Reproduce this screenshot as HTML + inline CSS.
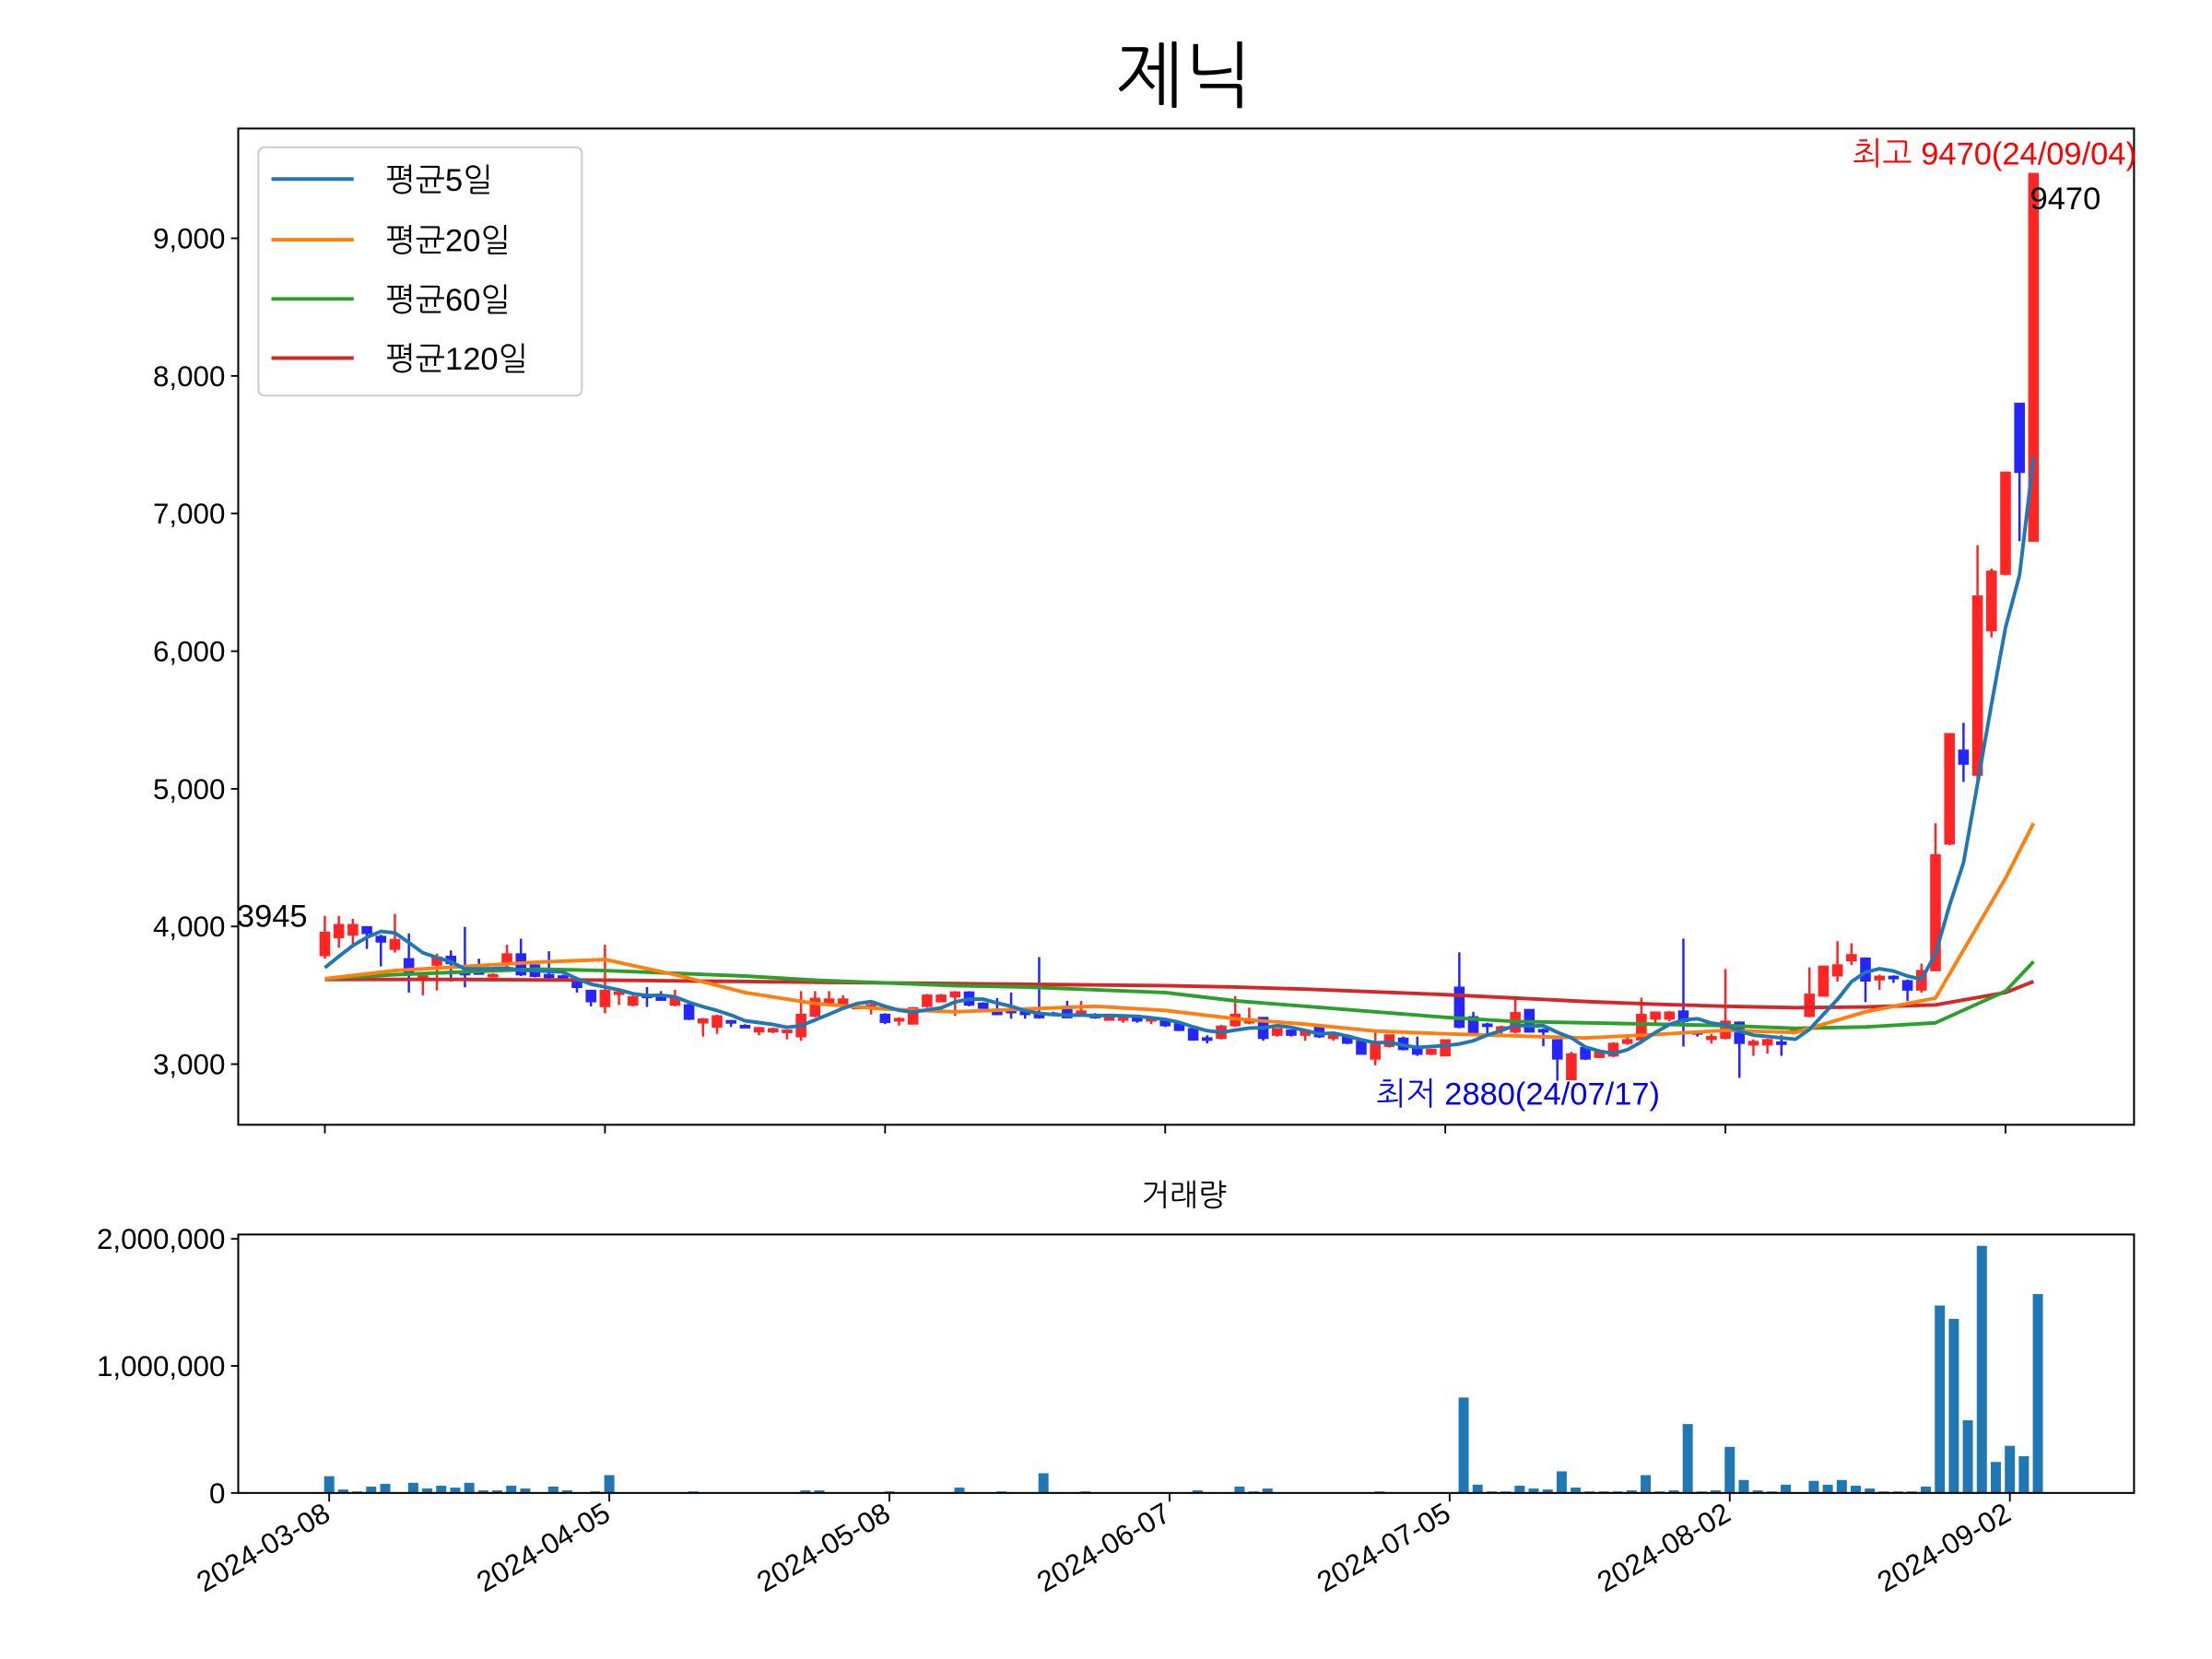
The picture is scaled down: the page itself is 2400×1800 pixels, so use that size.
<!DOCTYPE html>
<html><head><meta charset="utf-8">
<style>
html,body{margin:0;padding:0;background:#fff;}
svg{display:block;}
text{font-family:"Liberation Sans","NanumGothic","Noto Sans CJK KR",sans-serif;}
</style></head>
<body>
<svg id="chart" xmlns="http://www.w3.org/2000/svg" width="2400" height="1800" viewBox="0 0 1532 1149">
<rect x="0" y="0" width="1532" height="1149" fill="#fff"/>
<text x="820" y="70" font-size="50" text-anchor="middle" fill="#000">제닉</text>
<g id="price-plot"></g>
<g id="volume-plot"></g>
<rect x="165" y="89" width="1313" height="690" fill="none" stroke="#000" stroke-width="1.3"/>
<rect x="165" y="855" width="1313" height="179" fill="none" stroke="#000" stroke-width="1.3"/>
<text x="820" y="835" font-size="21" text-anchor="middle">거래량</text>
<g>
<rect x="179" y="102" width="224" height="172" rx="4" fill="#fff" fill-opacity="0.85" stroke="#ccc" stroke-width="1.3"/>
<line x1="188" y1="124" x2="245" y2="124" stroke="#1f77b4" stroke-width="2.5"/>
<text x="267" y="132" font-size="22">평균5일</text>
<line x1="188" y1="166" x2="245" y2="166" stroke="#ff7f0e" stroke-width="2.5"/>
<text x="267" y="174" font-size="22">평균20일</text>
<line x1="188" y1="207" x2="245" y2="207" stroke="#2ca02c" stroke-width="2.5"/>
<text x="267" y="215" font-size="22">평균60일</text>
<line x1="188" y1="248" x2="245" y2="248" stroke="#d62728" stroke-width="2.5"/>
<text x="267" y="256" font-size="22">평균120일</text>
</g>
<text x="1283" y="114" font-size="22" fill="#ff0000">최고 9470(24/09/04)</text>
<text x="1406" y="145" font-size="22" fill="#000">9470</text>
<text x="164" y="642" font-size="22" fill="#000">3945</text>
<text x="953" y="765" font-size="22" fill="#0000ff">최저 2880(24/07/17)</text>
</svg>
<script>
const opens=[3789,3920,3939,3997,3927,3835,3765,3630,3720,3782,3673,3670,3640,3742,3800,3719,3650,3640,3604,3535,3419,3510,3430,3500,3500,3430,3430,3300,3270,3315,3280,3235,3235,3235,3200,3350,3430,3430,3410,3410,3361,3320,3292,3420,3454,3490,3523,3442,3385,3390,3407,3373,3370,3396,3370,3361,3320,3320,3330,3320,3315,3292,3257,3190,3188,3280,3300,3338,3211,3246,3211,3269,3188,3200,3165,3038,3130,3188,3130,3073,3061,3558,3343,3290,3250,3234,3396,3250,3176,2888,3119,3050,3060,3152,3177,3328,3328,3385,3235,3180,3189,3304,3140,3140,3160,3238,3348,3495,3642,3752,3769,3613,3637,3605,3539,3680,4600,5280,5100,6150,6560,7800,6800];
const highs=[4077,4077,4055,4000,3940,4092,3950,3660,3803,3826,3997,3766,3660,3867,3911,3725,3820,3650,3610,3540,3867,3530,3500,3560,3530,3540,3440,3335,3360,3320,3290,3270,3265,3250,3530,3530,3530,3500,3430,3440,3370,3340,3415,3510,3510,3530,3530,3450,3480,3520,3410,3777,3380,3460,3460,3370,3360,3350,3340,3340,3320,3300,3260,3210,3285,3495,3410,3340,3260,3250,3250,3275,3215,3205,3170,3230,3215,3200,3200,3110,3180,3812,3380,3300,3280,3477,3400,3260,3180,3090,3125,3095,3160,3200,3483,3380,3385,3912,3240,3220,3691,3310,3180,3185,3210,3270,3703,3715,3893,3878,3775,3650,3645,3615,3730,4750,5400,5480,6770,6600,7300,7800,9470];
const lows=[3766,3845,3870,3837,3710,3810,3520,3500,3535,3600,3558,3650,3630,3700,3640,3630,3620,3615,3520,3420,3370,3430,3420,3415,3460,3420,3320,3200,3220,3270,3260,3210,3225,3180,3170,3340,3420,3420,3400,3360,3290,3280,3290,3410,3450,3350,3420,3400,3355,3330,3330,3330,3350,3335,3360,3330,3315,3300,3300,3290,3270,3240,3170,3150,3180,3270,3290,3170,3200,3200,3170,3190,3170,3145,3070,2992,3120,3100,3060,3065,3060,3260,3215,3220,3200,3225,3230,3130,2880,2888,3030,3045,3050,3140,3170,3300,3310,3128,3200,3150,3180,2900,3060,3076,3060,3230,3340,3490,3600,3720,3450,3540,3590,3458,3520,3680,4590,5050,5050,6100,6550,6800,6800];
const closes=[3957,4013,4013,3950,3888,3904,3662,3640,3777,3731,3650,3660,3650,3800,3650,3638,3630,3625,3558,3454,3535,3523,3488,3490,3465,3477,3327,3327,3350,3300,3268,3264,3257,3246,3361,3477,3472,3472,3420,3430,3304,3330,3408,3500,3500,3523,3430,3407,3361,3380,3361,3338,3360,3338,3385,3338,3350,3343,3320,3330,3280,3246,3176,3180,3274,3361,3320,3188,3257,3211,3246,3200,3211,3153,3073,3142,3211,3107,3073,3107,3176,3269,3223,3280,3270,3373,3234,3240,3038,3073,3038,3084,3150,3177,3360,3377,3377,3311,3225,3200,3311,3152,3164,3177,3150,3262,3507,3711,3720,3794,3605,3637,3625,3539,3679,4520,5400,5180,6400,6580,7300,7300,9470];
const priorCloses=[3600,3620,3650,3673];
const volumes=[132000,27000,12000,50000,72000,5000,80000,35000,57000,42000,80000,20000,20000,57000,35000,5000,50000,20000,5000,12000,140000,0,0,0,5000,5000,12000,5000,0,0,0,0,0,0,20000,20000,0,0,0,0,12000,5000,5000,5000,0,42000,0,0,12000,5000,5000,155000,5000,5000,12000,0,5000,5000,5000,5000,5000,0,20000,5000,0,50000,12000,35000,5000,0,5000,0,0,0,5000,12000,0,0,5000,0,5000,751000,65000,12000,12000,57000,35000,27000,170000,42000,12000,12000,12000,20000,140000,12000,20000,542000,12000,20000,363000,102000,20000,12000,65000,5000,95000,65000,102000,57000,35000,12000,12000,12000,50000,1475000,1370000,572000,1945000,244000,371000,289000,1565000];
const maIdx=[0,5,10,15,20,25,30,35,40,45,50,55,60,65,70,75,80,85,90,95,100,105,110,115,120,122];
const ma20=[3620,3680,3710,3740,3760,3650,3520,3440,3400,3380,3400,3420,3390,3330,3290,3240,3220,3205,3190,3215,3245,3230,3380,3480,4350,4750];
const ma60=[3620,3650,3670,3690,3680,3660,3640,3610,3590,3570,3560,3540,3520,3460,3420,3380,3340,3310,3300,3290,3280,3260,3270,3300,3530,3745];
const ma120=[3615,3615,3615,3612,3610,3605,3600,3595,3590,3585,3580,3575,3570,3560,3545,3525,3505,3480,3455,3435,3420,3410,3415,3430,3520,3600];
const tickIdx=[0,20,40,60,80,100,120];
const tickLabels=["2024-03-08","2024-04-05","2024-05-08","2024-06-07","2024-07-05","2024-08-02","2024-09-02"];
const priceTicks=[3000,4000,5000,6000,7000,8000,9000];
const volTicks=[0,1000000,2000000];
const volTickLabels=["0","1,000,000","2,000,000"];

const NS="http://www.w3.org/2000/svg";
const svg=document.getElementById('chart');
const pp=document.getElementById('price-plot');
const vp=document.getElementById('volume-plot');
function xS(i){return 225+i*9.7;}
function xV(i){return 228+i*9.7;}
function yP(v){return 737-(v-3000)*0.09533;}
function yV(v){return 1034-v*0.000088;}
function mk(tag,attrs,parent){const e=document.createElementNS(NS,tag);for(const k in attrs)e.setAttribute(k,attrs[k]);(parent||svg).appendChild(e);return e;}

for(let i=0;i<closes.length;i++){
  const up=closes[i]>=opens[i];
  const col=up?'#ff0000':'#0000ff';
  const g=mk('g',{opacity:'0.85'},pp);
  
  
  const w=mk('line',{x1:xS(i),x2:xS(i),y1:yP(highs[i]),y2:yP(lows[i]),stroke:col,'stroke-width':1.6},g);
  
  
  const top=yP(Math.max(opens[i],closes[i])),bot=yP(Math.min(opens[i],closes[i]));
  const b=mk('rect',{x:xS(i)-3.2,y:top,width:6.4,height:Math.max(bot-top,1.5),fill:col,stroke:col,'stroke-width':1},g);
  
  
}
function poly(pts,color,name){
  const p=mk('polyline',{points:pts.map(q=>q[0].toFixed(2)+','+q[1].toFixed(2)).join(' '),fill:'none',stroke:color,'stroke-width':2.5,'stroke-linejoin':'round'},pp);
  
  
}
const all=priorCloses.concat(closes);
const ma5pts=[];
for(let i=0;i<closes.length;i++){let s=0;for(let k=0;k<5;k++)s+=all[i+4-k];ma5pts.push([xS(i),yP(s/5)]);}
poly(maIdx.map((ix,j)=>[xS(ix),yP(ma120[j])]),'#d62728','ma120-line');
poly(maIdx.map((ix,j)=>[xS(ix),yP(ma60[j])]),'#2ca02c','ma60-line');
poly(maIdx.map((ix,j)=>[xS(ix),yP(ma20[j])]),'#ff7f0e','ma20-line');
poly(ma5pts,'#1f77b4','ma5-line');

for(let i=0;i<volumes.length;i++){
  const h=1034-yV(volumes[i]);
  const r=mk('rect',{x:xV(i)-3.5,y:yV(volumes[i]),width:7,height:h,fill:'#1f77b4'},vp);
  
  
}
priceTicks.forEach(v=>{
  const t=mk('line',{x1:160,x2:165,y1:yP(v),y2:yP(v),stroke:'#000','stroke-width':1.2});
  
  
  const l=mk('text',{x:156,y:yP(v)+7,'font-size':20,'text-anchor':'end'});
  l.textContent=v.toLocaleString('en-US');
  
  
});
volTicks.forEach((v,j)=>{
  const t=mk('line',{x1:160,x2:165,y1:yV(v),y2:yV(v),stroke:'#000','stroke-width':1.2});
  
  
  const l=mk('text',{x:156,y:yV(v)+7,'font-size':20,'text-anchor':'end'});
  l.textContent=volTickLabels[j];
  
  
});
tickIdx.forEach((ix,j)=>{
  const t1=mk('line',{x1:xS(ix),x2:xS(ix),y1:779,y2:785,stroke:'#000','stroke-width':1.2});
  
  
  const t2=mk('line',{x1:xV(ix),x2:xV(ix),y1:1034,y2:1040,stroke:'#000','stroke-width':1.2});
  
  
  const l=mk('text',{x:0,y:0,'font-size':20,'text-anchor':'end',transform:'translate('+(xV(ix)+2)+',1052) rotate(-30)'});
  l.textContent=tickLabels[j];
  
  
});
</script>
</body></html>
